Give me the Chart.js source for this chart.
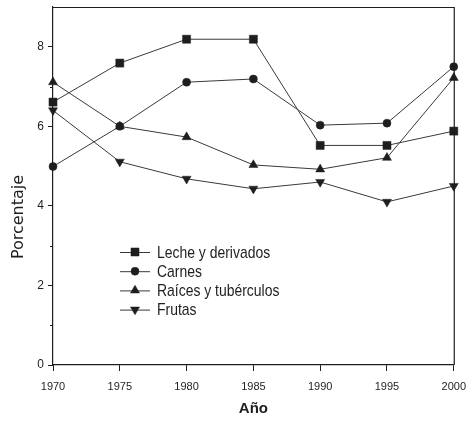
<!DOCTYPE html>
<html>
<head>
<meta charset="utf-8">
<script src="https://cdn.jsdelivr.net/npm/chart.js@4/dist/chart.umd.min.js"></script>
<style>
  html, body { margin: 0; padding: 0; background: #ffffff; }
  #wrap { width: 475px; height: 425px; }
</style>
</head>
<body>
<div id="wrap"><canvas id="c" width="475" height="425"></canvas></div>
<script>
const years = ['1970', '1975', '1980', '1985', '1990', '1995', '2000'];
const seriesNames = ['Leche y derivados', 'Carnes', 'Raíces y tubérculos', 'Frutas'];
const leche = [6.61, 7.59, 8.19, 8.19, 5.52, 5.52, 5.88];
const carnes = [4.99, 6.0, 7.11, 7.19, 6.03, 6.08, 7.5];
const raices = [7.11, 6.0, 5.73, 5.03, 4.92, 5.21, 7.22];
const frutas = [6.4, 5.11, 4.68, 4.43, 4.6, 4.1, 4.5];
const yMin = 0, yMax = 9, yMajorStep = 2, yMinorStep = 1;
const xTitle = 'Año';
const yTitle = 'Porcentaje';

const ink = '#1e1e1e';
const lineCol = '#3a3a3a';
const sans = "'Liberation Sans', Arial, sans-serif";

const markerStyles = [
  { pointStyle: 'rect', radius: 5.7, rotation: 0 },
  { pointStyle: 'circle', radius: 4, rotation: 0 },
  { pointStyle: 'triangle', radius: 5.2, rotation: 0 },
  { pointStyle: 'triangle', radius: 5.2, rotation: 180 }
];
const values = [leche, carnes, raices, frutas];

const datasets = values.map((v, i) => ({
  label: seriesNames[i],
  data: v,
  borderColor: lineCol,
  borderWidth: 1,
  backgroundColor: ink,
  pointBackgroundColor: ink,
  pointBorderColor: ink,
  pointBorderWidth: 0.5,
  pointStyle: markerStyles[i].pointStyle,
  pointRadius: markerStyles[i].radius,
  pointRotation: markerStyles[i].rotation,
  pointHoverRadius: markerStyles[i].radius,
  tension: 0,
  clip: false
}));

const extras = {
  id: 'extras',
  afterDraw(chart) {
    const { ctx, chartArea: a, scales } = chart;
    ctx.save();
    // frame top and right
    ctx.strokeStyle = ink;
    ctx.lineWidth = 1.2;
    ctx.beginPath();
    ctx.moveTo(a.left, a.top + 0.5);
    ctx.lineTo(a.right + 0.5, a.top + 0.5);
    ctx.lineTo(a.right + 0.5, a.bottom);
    ctx.stroke();
    // minor y ticks
    const ys = scales.y;
    ctx.lineWidth = 1;
    for (let v = yMin + yMinorStep; v < yMax; v += yMinorStep) {
      if (v % yMajorStep === 0) continue;
      const py = Math.round(ys.getPixelForValue(v)) + 0.5;
      ctx.beginPath();
      ctx.moveTo(a.left - 3, py);
      ctx.lineTo(a.left, py);
      ctx.stroke();
    }
    // y axis title
    ctx.fillStyle = ink;
    ctx.font = "16px 'DejaVu Sans', sans-serif";
    ctx.textAlign = 'center';
    ctx.textBaseline = 'middle';
    ctx.translate(19, a.top + 210);
    ctx.rotate(-Math.PI / 2);
    ctx.fillText(yTitle, 0, 0);
    ctx.restore();

    // legend
    ctx.save();
    const lx0 = a.left + 67, lx1 = a.left + 97, mx = a.left + 82, tx = a.left + 104;
    const ly0 = a.top + 245, dy = 19.2;
    ctx.textBaseline = 'middle';
    ctx.textAlign = 'left';
    chart.data.datasets.forEach((ds, i) => {
      const y = ly0 + i * dy;
      ctx.strokeStyle = ds.borderColor;
      ctx.lineWidth = 1;
      ctx.beginPath();
      ctx.moveTo(lx0, y + 0.5);
      ctx.lineTo(lx1, y + 0.5);
      ctx.stroke();
      ctx.fillStyle = ds.pointBackgroundColor;
      ctx.strokeStyle = ds.pointBorderColor;
      ctx.lineWidth = 0.5;
      Chart.helpers.drawPoint(ctx, { pointStyle: ds.pointStyle, rotation: ds.pointRotation, radius: ds.pointRadius, borderWidth: 0.5 }, mx, y);
      // condensed text (reference type is narrow)
      ctx.save();
      ctx.translate(tx, y + 1);
      ctx.scale(0.82, 1);
      ctx.font = '17px ' + sans;
      ctx.fillStyle = ink;
      ctx.fillText(ds.label, 0, 0);
      ctx.restore();
    });
    ctx.restore();
  }
};

new Chart(document.getElementById('c'), {
  type: 'line',
  data: { labels: years, datasets },
  options: {
    responsive: false,
    animation: false,
    devicePixelRatio: 1,
    layout: { padding: { top: 7, right: 18, left: 0, bottom: 0 } },
    plugins: { legend: { display: false }, tooltip: { enabled: false } },
    scales: {
      x: {
        type: 'category',
        offset: false,
        grid: { drawOnChartArea: false, drawTicks: true, tickLength: 6, tickColor: ink, tickWidth: 1 },
        border: { display: true, color: ink, width: 1.2 },
        ticks: { color: ink, font: { family: sans, size: 11 }, padding: 9, maxRotation: 0, autoSkip: false },
        title: { display: true, text: xTitle, color: ink, font: { family: sans, size: 15, weight: 'bold' }, padding: { top: 0, bottom: 7 } },
        afterFit(s) { s.height = 60; }
      },
      y: {
        min: yMin,
        max: yMax,
        grid: { drawOnChartArea: false, drawTicks: true, tickLength: 5, tickColor: ink, tickWidth: 1 },
        border: { display: true, color: ink, width: 1.2 },
        ticks: { stepSize: yMajorStep, color: ink, font: { family: sans, size: 12 }, padding: 4 },
        afterBuildTicks(s) { s.ticks = s.ticks.filter(t => t.value % yMajorStep === 0); },
        afterFit(s) { s.width = 53; s.paddingTop = 0; s.paddingBottom = 0; }
      }
    }
  },
  plugins: [extras]
});
</script>
</body>
</html>
